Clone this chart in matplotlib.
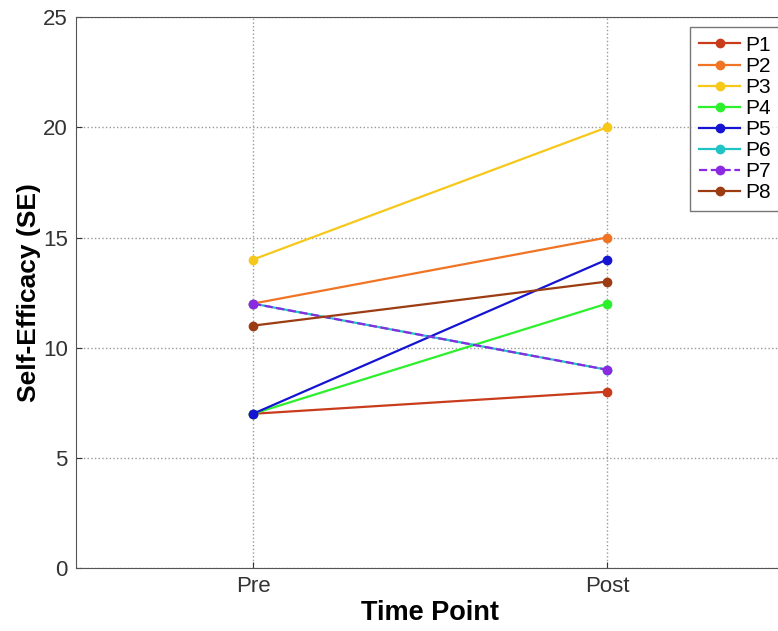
import matplotlib.pyplot as plt

plt.rcParams['font.family'] = ['Liberation Sans', 'DejaVu Sans']

# datos
time_points = ["Pre", "Post"]
participants = ["P1", "P2", "P3", "P4", "P5", "P6", "P7", "P8"]
pre = [7, 12, 14, 7, 7, 12, 12, 11]
post = [8, 15, 20, 12, 14, 9, 9, 13]
colors = ["#c83c1c", "#f07424", "#f5c81a", "#2cf02c", "#1414d2", "#20c4c4", "#8a2be2", "#9c3c12"]
styles = ["-", "-", "-", "-", "-", "-", "--", "-"]

fig = plt.figure(figsize=(7.78, 6.31), dpi=100)
ax = fig.add_axes([0.0977, 0.0998, 0.910, 0.873])

x = [1, 2]
for i, p in enumerate(participants):
    ax.plot(x, [pre[i], post[i]], color=colors[i], linestyle=styles[i],
            linewidth=1.6, marker='o', markersize=6, label=p)

ax.set_xlim(0.5, 2.5)
ax.set_ylim(0, 25)
ax.set_xticks(x)
ax.set_xticklabels(time_points)
ax.set_yticks([0, 5, 10, 15, 20, 25])
ax.tick_params(direction='in', labelsize=16, length=4, colors='#333333')
ax.tick_params(axis='y', pad=6)
ax.tick_params(axis='x', pad=6)
ax.grid(True, linestyle=':', color='#999999', linewidth=1)
for s in ax.spines.values():
    s.set_color('#555555')

ax.set_xlabel("Time Point", fontsize=19.5, fontweight='bold', labelpad=2)
ax.set_ylabel("Self-Efficacy (SE)", fontsize=19, fontweight='bold', labelpad=1)

leg = ax.legend(loc='upper left', bbox_to_anchor=(690 / 778, 1 - 27 / 631),
                bbox_transform=fig.transFigure, fontsize=15, frameon=True,
                fancybox=False, edgecolor='#555555', handlelength=2.0,
                handletextpad=0.25, borderpad=0.42, labelspacing=0.1,
                borderaxespad=0)

fig.savefig("out.png", dpi=100)
